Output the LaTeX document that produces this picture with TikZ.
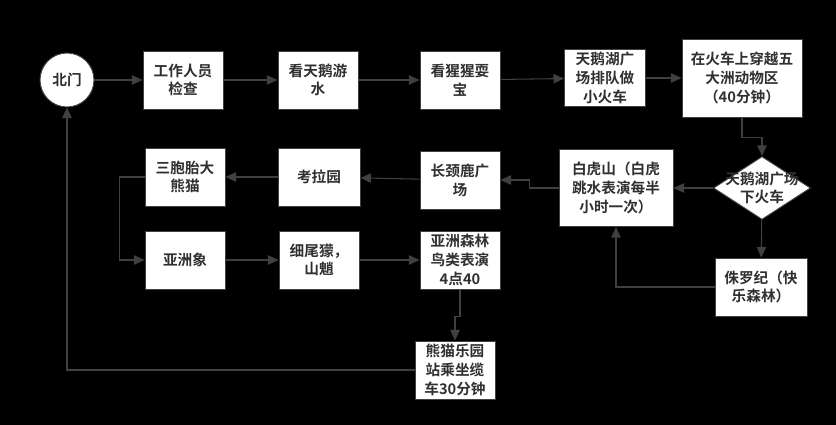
\documentclass[tikz,border=0pt]{standalone}
\usepackage{fontspec}
\setmainfont{Noto Sans CJK SC Bold}
\usetikzlibrary{shapes.geometric, arrows.meta}
\definecolor{edge}{HTML}{404040}
\definecolor{txt}{HTML}{303030}
\newcommand{\boxfont}{\fontsize{12.5}{16}\selectfont}
\tikzstyle{stop} = [circle, minimum size=54*0.03cm, draw=edge, line width=0.8pt, fill=white, text=txt, font=\boxfont]
\tikzstyle{process} = [rectangle, minimum width=80*0.03cm, minimum height=58*0.03cm, draw=edge, line width=0.8pt, fill=white, text=txt, text centered, align=center, font=\boxfont, inner sep=1pt]
\tikzstyle{decision} = [diamond, minimum width=97*0.03cm, minimum height=63*0.03cm, draw=edge, line width=0.8pt, fill=white, text=txt, align=center, font=\boxfont, inner sep=0pt]
\tikzstyle{line} = [draw=edge, line width=0.9pt, -{Triangle[length=9pt,width=8pt]}]

\begin{document}
\begin{tikzpicture}[x=0.03cm, y=-0.03cm]
            \fill[black] (0,0) rectangle (836,425);
            \useasboundingbox (0,0) rectangle (836,425);

            % Nodes
            % Top row
            \node (gate) [stop] at (67,80) {北门};
            \node (check) [process] at (183,80) {工作人员\\检查};
            \node (swan) [process] at (318,80) {看天鹅游\\水};
            \node (ape) [process] at (460,80) {看猩猩耍\\宝};
            \node (queue) [process, minimum width=81*0.03cm, minimum height=57*0.03cm] at (605,78) {天鹅湖广\\场排队做\\小火车};
            \node (train) [process, minimum width=120*0.03cm, minimum height=78*0.03cm] at (742,78) {在火车上穿越五\\大洲动物区\\（40分钟）};

            % Middle row
            \node (getoff) [decision] at (762,188) {};
            \node at (getoff) [align=center, text=txt, font=\boxfont] {天鹅湖广场\\下火车};
            \node (tiger) [process, minimum width=114*0.03cm, minimum height=77*0.03cm] at (616,188) {白虎山（白虎\\跳水表演每半\\小时一次）};
            \node (jura) [process, minimum width=92*0.03cm] at (761,287) {侏罗纪（快\\乐森林）};
            \node (giraffe) [process] at (460,180) {长颈鹿广\\场};
            \node (koala) [process, minimum width=82*0.03cm] at (319,177) {考拉园};
            \node (panda) [process] at (185,177) {三胞胎大\\熊猫};

            % Bottom row
            \node (elephant) [process] at (185,260) {亚洲象};
            \node (meerkat) [process] at (319,260) {细尾獴，\\山魈};
            \node (bird) [process] at (460,260) {亚洲森林\\鸟类表演\\4点40};
            \node (cable) [process] at (455,370) {熊猫乐园\\站乘坐缆\\车30分钟};

            % Draw lines
            \path [line] (gate) -- (check);
            \path [line] (check) -- (swan);
            \path [line] (swan) -- (ape);
            \path [line] (ape) -- (queue);
            \path [line] (queue) -- (train);
            \path [line] (train.south) -- ++(0,20) -| (getoff.north);
            \path [line] (getoff) -- (tiger);
            \path [line] (getoff) -- (jura);
            \path [line] (jura) -| (tiger.south);
            \path [line] (tiger.west) -- ++(-29,0) |- (giraffe.east);
            \path [line] (giraffe) -- (koala);
            \path [line] (koala) -- (panda);
            \path [line] (panda.west) -- ++(-25,0) |- (elephant.west);
            \path [line] (elephant) -- (meerkat);
            \path [line] (meerkat) -- (bird);
            \path [line] (bird.south) -- ++(0,27) -| (cable.north);
            \path [line] (cable.west) -| (gate.south);
\end{tikzpicture}
\end{document}
